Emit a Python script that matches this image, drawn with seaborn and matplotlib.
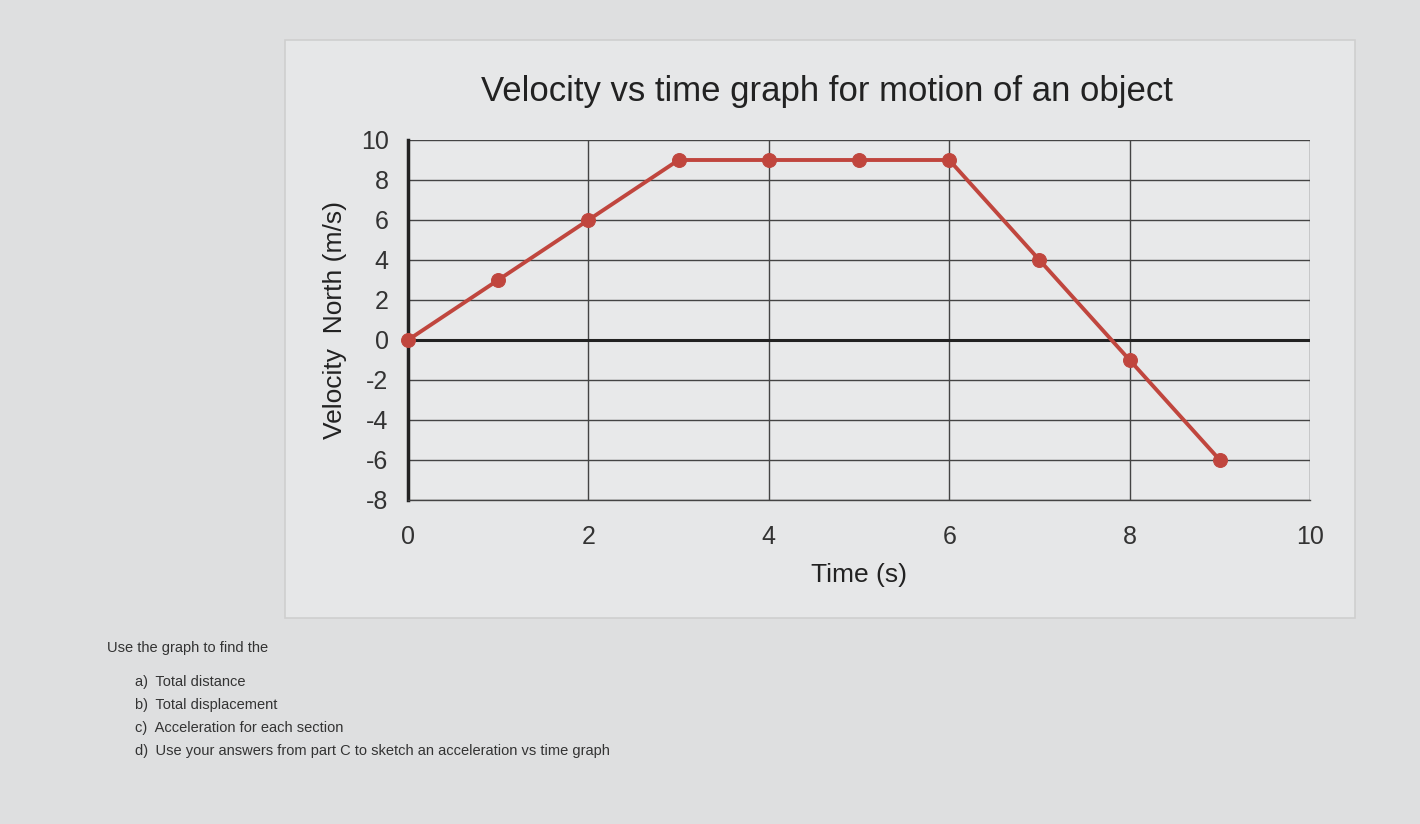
import matplotlib
matplotlib.use("Agg")
import matplotlib.pyplot as plt
import seaborn as sns
import pandas as pd
from matplotlib.patches import Rectangle

time_s = [0, 1, 2, 3, 4, 5, 6, 7, 8, 9]
velocity = [0, 3, 6, 9, 9, 9, 9, 4, -1, -6]
x_ticks = [0, 2, 4, 6, 8, 10]
y_ticks = [-8, -6, -4, -2, 0, 2, 4, 6, 8, 10]
questions = ["a)\u2002Total distance", "b)\u2002Total displacement",
             "c)\u2002Acceleration for each section",
             "d)\u2002Use your answers from part C to sketch an acceleration vs time graph"]

sns.set_theme(style="white")
plt.rcParams['font.family'] = ['Liberation Sans', 'DejaVu Sans']
plt.rcParams['axes.unicode_minus'] = False

fig = plt.figure(figsize=(14.2, 8.24), dpi=100)
fig.patch.set_facecolor("#dedfe0")
panel = Rectangle((285 / 1420, 1 - 618 / 824), (1355 - 285) / 1420, (618 - 40) / 824,
                  transform=fig.transFigure, facecolor="#e6e7e8", edgecolor="#cfcfcf", lw=1.2, zorder=-5)
fig.patches.append(panel)

ax = fig.add_axes([408 / 1420, 1 - 500 / 824, (1310 - 408) / 1420, (500 - 140) / 824])
ax.set_zorder(5)
ax.set_facecolor("#e8e9ea")
df = pd.DataFrame({"t": time_s, "v": velocity})
sns.lineplot(data=df, x="t", y="v", ax=ax, color="#c0463e", lw=2.8, marker="o",
             markersize=10, markeredgecolor="#c0463e", zorder=5, clip_on=False)
ax.set_xlim(0, 10)
ax.set_ylim(-8, 10)
ax.set_xticks(x_ticks)
ax.set_yticks(y_ticks)
ax.grid(True, color="#444444", lw=1.0)
ax.axhline(0, color="#222222", lw=2.2, zorder=3)
for s in ["top", "right"]:
    ax.spines[s].set_visible(False)
ax.spines["left"].set_color("#222222")
ax.spines["left"].set_linewidth(2.5)
ax.spines["bottom"].set_color("#444444")
ax.spines["bottom"].set_linewidth(1.0)
ax.tick_params(axis="both", length=0, labelsize=18, colors="#333333")
ax.tick_params(axis="x", pad=18)
ax.tick_params(axis="y", pad=14)
ax.set_xlabel("Time (s)", fontsize=19, color="#222222", labelpad=10)
ax.set_ylabel("Velocity  North (m/s)", fontsize=19, color="#222222", labelpad=10)
ax.set_title("Velocity vs time graph for motion of an object", fontsize=25,
             color="#222222", pad=28, x=0.465)

fig.text(107 / 1420, 1 - 648 / 824, "Use the graph to find the", fontsize=10.5,
         color="#333333", va="center")
for i, q in enumerate(questions):
    fig.text(135 / 1420, 1 - (682 + i * 23) / 824, q, fontsize=10.5, color="#333333", va="center")

fig.savefig("out.png", dpi=100, facecolor=fig.get_facecolor())
